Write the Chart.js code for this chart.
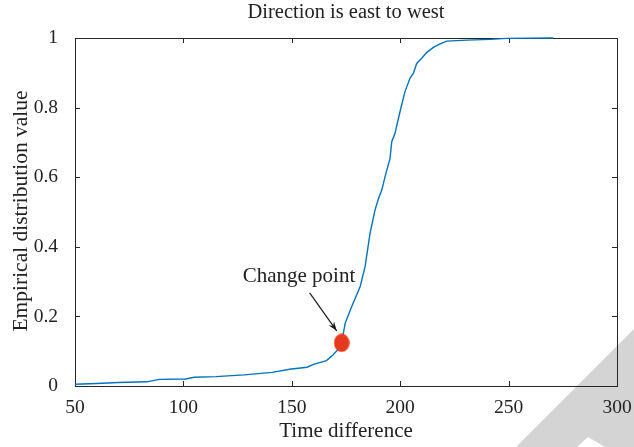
<!DOCTYPE html>
<html>
<head>
<meta charset="utf-8">
<script src="https://cdn.jsdelivr.net/npm/chart.js@4/dist/chart.umd.min.js"></script>
<style>
  html, body { margin: 0; padding: 0; background: #fff; }
  #wrap { width: 634px; height: 447px; }
</style>
</head>
<body>
<div id="wrap"><canvas id="myChart" width="634" height="447"></canvas></div>
<script>
// datos (ECDF este -> oeste)
var tiempo = [50, 60, 70, 83, 89, 101, 105, 115, 128, 141, 149, 157, 160, 166, 169, 171, 173,
    174.6, 177.6, 181.5, 183.8, 186.1, 188.4, 190, 191.5, 193, 195.3, 196.1, 197.6, 199.9,
    202.2, 204.5, 206.1, 207.6, 209.9, 212.2, 215.3, 218.4, 221.5, 230.7, 241.4, 249.1, 270.6];
var distribucion = [0.005, 0.007, 0.010, 0.012, 0.019, 0.020, 0.025, 0.027, 0.032, 0.039, 0.048, 0.054, 0.062, 0.073, 0.089, 0.103, 0.124,
    0.180, 0.228, 0.285, 0.343, 0.439, 0.506, 0.539, 0.563, 0.601, 0.654, 0.702, 0.726, 0.788,
    0.846, 0.884, 0.899, 0.927, 0.942, 0.958, 0.973, 0.983, 0.991, 0.994, 0.996, 0.999, 1.0];
var punto_cambio = { x: 173, y: 0.124 };
var ticks_x = [50, 100, 150, 200, 250, 300];
var ticks_y = [0, 0.2, 0.4, 0.6, 0.8, 1];

var fuente = "'Liberation Serif', 'DejaVu Serif', serif";

// punto rojo (elipse) como pointStyle
var punto = document.createElement('canvas');
punto.width = 16;
punto.height = 19;
var pctx = punto.getContext('2d');
pctx.fillStyle = '#e63a1f';
pctx.beginPath();
pctx.ellipse(8, 9.5, 7.8, 9.3, 0, 0, Math.PI * 2);
pctx.fill();

var datos = [];
tiempo.forEach(function (t, i) {
    datos.push({ x: t, y: distribucion[i] });
});

var marco = {
    id: 'marco',
    beforeDraw: function (chart) {
        var ctx = chart.ctx;
        ctx.save();
        ctx.fillStyle = '#fff';
        ctx.fillRect(0, 0, chart.width, chart.height);
        // marca de agua gris
        ctx.fillStyle = '#d4d4d4';
        ctx.beginPath();
        ctx.moveTo(634, 329);
        ctx.lineTo(634, 447);
        ctx.lineTo(605, 447);
        ctx.lineTo(588, 437);
        ctx.lineTo(577, 447);
        ctx.lineTo(516, 447);
        ctx.closePath();
        ctx.fill();
        ctx.restore();
    },
    beforeDatasetsDraw: function (chart) {
        var ctx = chart.ctx;
        var a = chart.chartArea;
        var sx = chart.scales.x, sy = chart.scales.y;
        ctx.save();
        ctx.strokeStyle = '#262626';
        ctx.lineWidth = 1;
        ctx.strokeRect(a.left + 0.5, a.top + 0.5, a.right - a.left, a.bottom - a.top);
        ctx.beginPath();
        ticks_x.forEach(function (v) {
            var px = Math.round(sx.getPixelForValue(v)) + 0.5;
            ctx.moveTo(px, a.bottom); ctx.lineTo(px, a.bottom - 5);
            ctx.moveTo(px, a.top); ctx.lineTo(px, a.top + 5);
        });
        ticks_y.forEach(function (v) {
            var py = Math.round(sy.getPixelForValue(v)) + 0.5;
            ctx.moveTo(a.left, py); ctx.lineTo(a.left + 5, py);
            ctx.moveTo(a.right, py); ctx.lineTo(a.right - 5, py);
        });
        ctx.stroke();
        ctx.restore();
    },
    afterDatasetsDraw: function (chart) {
        var ctx = chart.ctx;
        var a = chart.chartArea;
        var sx = chart.scales.x, sy = chart.scales.y;
        ctx.save();
        // textos
        ctx.fillStyle = '#222';
        ctx.textAlign = 'center';
        ctx.textBaseline = 'middle';
        var cx = (a.left + a.right) / 2;
        ctx.font = '20.5px ' + fuente;
        ctx.fillText('Direction is east to west', cx, 13);
        ctx.font = '21px ' + fuente;
        ctx.fillText('Time difference', cx, 431);
        ctx.save();
        ctx.translate(21, 211);
        ctx.rotate(-Math.PI / 2);
        ctx.font = '21.5px ' + fuente;
        ctx.fillText('Empirical distribution value', 0, 0);
        ctx.restore();

        // anotacion
        var px = sx.getPixelForValue(punto_cambio.x);
        var py = sy.getPixelForValue(punto_cambio.y);
        ctx.textAlign = 'left';
        ctx.font = '21px ' + fuente;
        ctx.fillText('Change point', px - 99, py - 66);
        var x1 = px - 32, y1 = py - 50, x2 = px - 5, y2 = py - 12;
        ctx.strokeStyle = '#1a1a1a';
        ctx.lineWidth = 1.2;
        ctx.beginPath();
        ctx.moveTo(x1, y1);
        ctx.lineTo(x2, y2);
        ctx.stroke();
        var ang = Math.atan2(y2 - y1, x2 - x1);
        ctx.fillStyle = '#1a1a1a';
        ctx.beginPath();
        ctx.moveTo(x2, y2);
        ctx.lineTo(x2 - 10 * Math.cos(ang - 0.35), y2 - 10 * Math.sin(ang - 0.35));
        ctx.lineTo(x2 - 6 * Math.cos(ang), y2 - 6 * Math.sin(ang));
        ctx.lineTo(x2 - 10 * Math.cos(ang + 0.35), y2 - 10 * Math.sin(ang + 0.35));
        ctx.closePath();
        ctx.fill();
        ctx.restore();
    }
};

var ctx = document.getElementById('myChart');
var myChart = new Chart(ctx, {
    type: 'scatter',
    data: {
        datasets: [
            {
                data: datos,
                showLine: true,
                borderColor: '#0072BD',
                backgroundColor: '#0072BD',
                borderWidth: 1.4,
                pointRadius: 0,
                tension: 0,
                clip: 3,
                order: 2
            },
            {
                data: [punto_cambio],
                showLine: false,
                pointStyle: punto,
                pointRadius: 9,
                order: 1
            }
        ]
    },
    plugins: [marco],
    options: {
        responsive: false,
        animation: false,
        events: [],
        layout: { padding: { top: 38, right: 17, left: 0, bottom: 0 } },
        plugins: { legend: { display: false }, title: { display: false }, tooltip: { enabled: false } },
        scales: {
            x: {
                type: 'linear',
                min: 50,
                max: 300,
                afterFit: function (s) { s.height = 61; },
                afterBuildTicks: function (s) { s.ticks = ticks_x.map(function (v) { return { value: v }; }); },
                grid: { display: false },
                border: { display: false },
                ticks: {
                    padding: 2,
                    maxRotation: 0,
                    color: '#222',
                    font: { family: fuente, size: 19.5 }
                }
            },
            y: {
                type: 'linear',
                min: 0,
                max: 1,
                afterFit: function (s) { s.width = 75; },
                afterBuildTicks: function (s) { s.ticks = ticks_y.map(function (v) { return { value: v }; }); },
                grid: { display: false },
                border: { display: false },
                ticks: {
                    padding: 9,
                    color: '#222',
                    font: { family: fuente, size: 19.5 },
                    callback: function (v) { return String(+v.toFixed(1)); }
                }
            }
        }
    }
});
</script>
</body>
</html>
